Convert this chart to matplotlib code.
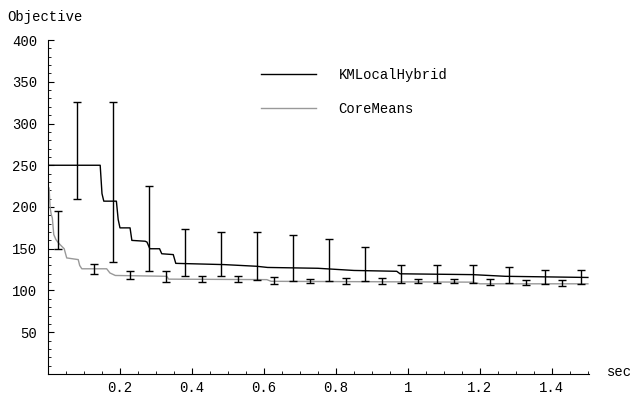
import matplotlib.pyplot as plt
import numpy as np
from matplotlib.ticker import MultipleLocator, FixedLocator

plt.rcParams['font.family'] = ['Liberation Mono', 'DejaVu Sans Mono']
plt.rcParams['font.size'] = 10

# KMLocalHybrid mean objective vs time
km_t = [0, 0.145, 0.150, 0.155, 0.19, 0.195, 0.20, 0.228, 0.233, 0.27, 0.275, 0.283, 0.31,
        0.316, 0.348, 0.355, 0.49, 0.58, 0.61, 0.75, 0.85, 0.969, 0.978, 1.18, 1.27, 1.5]
km_v = [250, 250, 216, 207, 207, 185, 175, 175, 160, 159, 158, 150, 150,
        144, 143, 132.5, 131, 129, 127.6, 126.6, 124, 123, 120, 119, 117, 115.6]

# CoreMeans mean objective vs time
cm_t = [0, 0.003, 0.006, 0.009, 0.012, 0.016, 0.022, 0.029, 0.038, 0.045, 0.052, 0.084,
        0.088, 0.094, 0.163, 0.172, 0.187, 0.33, 0.335, 0.608, 0.62, 1.18, 1.2, 1.5]
cm_v = [223, 223, 199, 191, 187, 167, 161, 157, 153, 150, 139, 137,
        130, 126, 126, 121, 118, 117, 113.6, 113, 111, 110, 108, 108]

# error bars (low / high)
km_bx = [0.08, 0.18, 0.28, 0.38, 0.48, 0.58, 0.68, 0.78, 0.88, 0.98, 1.08, 1.18, 1.28, 1.38, 1.48]
km_lo = [210, 133.6, 123.6, 116.8, 116.8, 112.8, 111.2, 111.2, 111.2, 108.8, 108.8, 108.8, 108.8, 107.6, 107.6]
km_hi = [325.6, 325.6, 225.6, 173.6, 170, 169.6, 166.4, 161.6, 152, 130, 130, 130, 128, 124, 124]

cm_bx = [0.027, 0.127, 0.227, 0.327, 0.427, 0.527, 0.627, 0.727, 0.827, 0.927, 1.027, 1.127, 1.227, 1.327, 1.427]
cm_lo = [149.6, 119.6, 114, 110.4, 110.4, 110.4, 108, 108.4, 108, 108, 108.4, 108.4, 106.4, 106.4, 105.6]
cm_hi = [194.8, 131.6, 122.8, 122.8, 116.8, 116.8, 116, 114, 114.4, 114.4, 114, 114, 113.6, 112.8, 112.8]

fig = plt.figure(figsize=(6.34, 3.95), dpi=100)
ax = fig.add_axes([0.0757, 0.0532, 0.929 - 0.0757, 0.8987 - 0.0532])

ax.plot(km_t, km_v, color='black', lw=1.0, label='KMLocalHybrid')
ax.plot(cm_t, cm_v, color='#999999', lw=1.0, label='CoreMeans')

for bx, lo, hi in [(km_bx, km_lo, km_hi), (cm_bx, cm_lo, cm_hi)]:
    lo = np.array(lo); hi = np.array(hi)
    ax.errorbar(bx, (lo + hi) / 2, yerr=(hi - lo) / 2, fmt='none', ecolor='black',
                elinewidth=1.0, capsize=2.6, capthick=1.0)

ax.set_xlim(0, 1.503)
ax.set_ylim(0, 400)
ax.spines['top'].set_visible(False)
ax.spines['right'].set_visible(False)
ax.xaxis.set_major_locator(FixedLocator([0.2, 0.4, 0.6, 0.8, 1.0, 1.2, 1.4]))
ax.set_xticklabels(['0.2', '0.4', '0.6', '0.8', '1', '1.2', '1.4'])
ax.xaxis.set_minor_locator(MultipleLocator(0.05))
ax.yaxis.set_major_locator(FixedLocator([50, 100, 150, 200, 250, 300, 350, 400]))
ax.yaxis.set_minor_locator(MultipleLocator(10))
ax.tick_params(which='major', direction='in', length=4, width=0.8)
ax.tick_params(axis='y', which='major', pad=8)
ax.tick_params(axis='x', which='major', pad=5)
ax.tick_params(which='minor', direction='in', length=2, width=0.6)

ax.legend(loc='upper left', bbox_to_anchor=(0.37, 0.955), frameon=False,
          handlelength=4, handletextpad=1.6, labelspacing=1.45)

fig.text(7 / 634, 1 - 17 / 395, 'Objective', ha='left', va='center')
fig.text(607 / 634, 1 - 372 / 395, 'sec', ha='left', va='center')

plt.savefig('out.png', dpi=100)
